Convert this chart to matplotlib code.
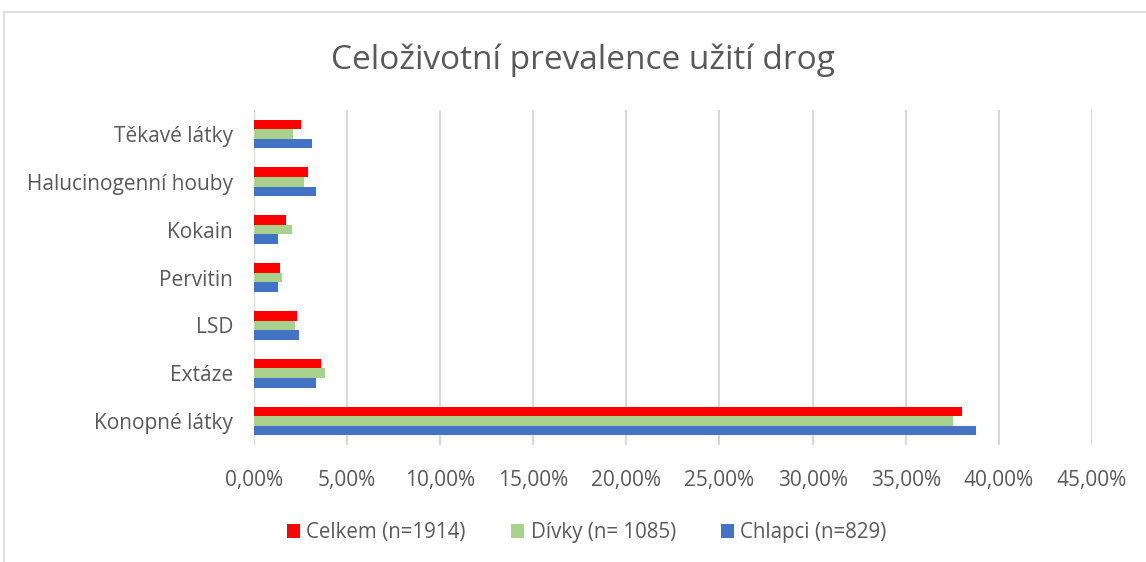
import matplotlib.pyplot as plt
from matplotlib.lines import Line2D
from matplotlib.ticker import FuncFormatter
import numpy as np

plt.rcParams['font.family'] = ['Open Sans', 'DejaVu Sans']

# Data (bottom to top)
categories = ['Konopné látky', 'Extáze', 'LSD', 'Pervitin', 'Kokain',
              'Halucinogenní houby', 'Těkavé látky']
celkem = [38.05, 3.62, 2.33, 1.41, 1.70, 2.92, 2.51]
divky = [37.55, 3.82, 2.22, 1.51, 2.03, 2.70, 2.12]
chlapci = [38.75, 3.35, 2.40, 1.31, 1.31, 3.35, 3.14]
series_names = ['Celkem (n=1914)', 'Dívky (n= 1085)', 'Chlapci (n=829)']
colors = ['#FF0000', '#A9D18E', '#4472C4']
xticks = np.arange(0, 46, 5)

fig = plt.figure(figsize=(11.46, 5.62), dpi=100)
ax = fig.add_axes([0.2216, 0.2082, 0.7312, 0.596])

y = np.arange(len(categories))
h = 0.2
for vals, off, col, name in zip([celkem, divky, chlapci], [h, 0, -h],
                                colors, series_names):
    ax.barh(y + off, vals, height=h, color=col, label=name, zorder=3)

ax.set_xlim(0, 45)
ax.set_ylim(-0.5, len(categories) - 0.5)
ax.set_xticks(xticks)
ax.xaxis.set_major_formatter(FuncFormatter(lambda v, p: f'{v:.2f}%'.replace('.', ',')))
ax.set_yticks(y)
ax.set_yticklabels(categories)
ax.tick_params(axis='both', length=0, labelsize=15, colors='#595959')
ax.tick_params(axis='x', pad=18)
ax.tick_params(axis='y', pad=15)
ax.grid(axis='x', color='#D9D9D9', linewidth=1.5, zorder=0)
for s in ax.spines.values():
    s.set_visible(False)

fig.text(0.509, 0.893, 'Celoživotní prevalence užití drog', ha='center', va='center',
         fontsize=24, color='#595959')

leg = fig.legend(loc='center', bbox_to_anchor=(0.512, 0.052), ncol=3, frameon=False,
                 fontsize=14.8, handlelength=0.65, handleheight=0.65,
                 handletextpad=0.3, columnspacing=2.2)
for t in leg.get_texts():
    t.set_color('#595959')

# chart border (left and top visible)
fig.add_artist(Line2D([4 / 1146, 4 / 1146], [0, 1 - 12 / 562], color='#D9D9D9', lw=1.2))
fig.add_artist(Line2D([4 / 1146, 1], [1 - 12 / 562, 1 - 12 / 562], color='#D9D9D9', lw=1.2))

fig.savefig('out.png', dpi=100)
